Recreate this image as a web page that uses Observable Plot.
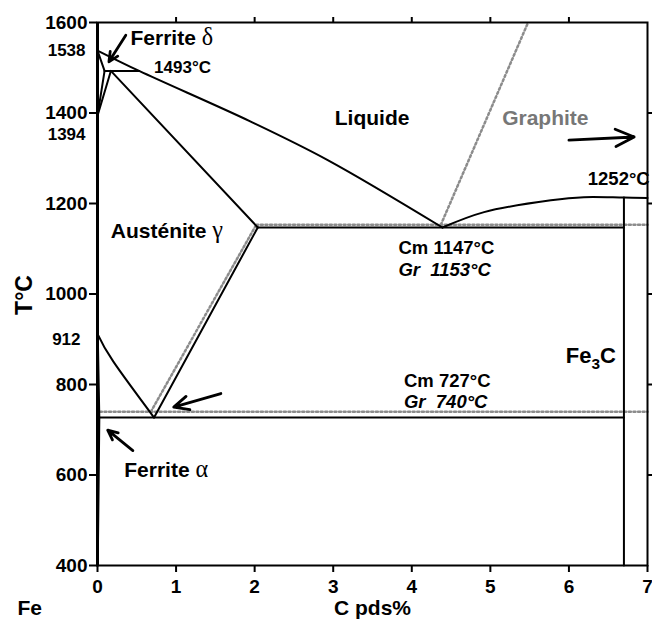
<!DOCTYPE html>
<html><head><meta charset="utf-8">
<script src="https://cdn.jsdelivr.net/npm/d3@7"></script>
<script src="https://cdn.jsdelivr.net/npm/@observablehq/plot@0.6"></script>
<style>
html,body{margin:0;padding:0;background:#fff;}
</style></head><body><div id="chart"></div>
<script>
// ---- data (C wt%, T °C) ----
const yTicks = [400, 600, 800, 1000, 1200, 1400, 1600];
const xTicks = [0, 1, 2, 3, 4, 5, 6, 7];
const liquidus = [[0,1538],[0.53,1493],[1.95,1381],[2.93,1296],[4.39,1147]];
const deltaSolidus = [[0,1538],[0.09,1493]];
const deltaGammaA = [[0.09,1493],[0,1394]];
const deltaGammaB = [[0.17,1493],[0,1394]];
const peritectic = [[0.09,1493],[0.53,1493]];
const gammaSolidus = [[0.17,1493],[2.04,1147]];
const eutecticCm = [[2.04,1147],[6.70,1147]];
const cmLiquidus = [[4.39,1147],[4.92,1181],[5.77,1207],[6.19,1214],[6.70,1213],[7,1212]];
const fe3cLine = [[6.70,1213],[6.70,400]];
const a3Line = [[0,912],[0.2,851],[0.72,727]];
const acmLine = [[0.72,727],[2.04,1147]];
const eutectoidCm = [[0,727],[6.70,727]];
const alphaSolvus = [[0,912],[0.02,727],[0,400]];
// graphite (stable) system, dotted
const grLiquidus = [[4.37,1153],[5.48,1600]];
const eutecticGr = [[2.02,1153],[7,1153]];
const acmGr = [[0.68,740],[2.02,1153]];
const eutectoidGr = [[0.03,740],[7,740]];
// arrows
const arrowsData = [
  {x1:0.36, y1:1572, x2:0.145, y2:1513},
  {x1:6.0, y1:1340, x2:6.83, y2:1347},
  {x1:1.57, y1:780, x2:0.97, y2:750},
  {x1:0.45, y1:654, x2:0.13, y2:699}
];
// labels
const regionLabels = [
  {text:"Ferrite δ", x:0.42, y:1566},
  {text:"Liquide", x:3.02, y:1389},
  {text:"Austénite γ", x:0.17, y:1138},
  {text:"Ferrite α", x:0.34, y:610}
];
const fe3cLabel = [{text:"Fe3C", x:5.96, y:862}];
const graphiteLabel = [{text:"Graphite", x:5.15, y:1389}];
const tempLabels = [
  {text:"Cm 1147°C", x:3.83, y:1101},
  {text:"Cm 727°C", x:3.90, y:808},
  {text:"1252°C", x:6.24, y:1255}
];
const grLabels = [
  {text:"Gr\u00a0\u00a01153°C", x:3.83, y:1053},
  {text:"Gr\u00a0\u00a0740°C", x:3.90, y:761}
];
const peritecticLabel = [{text:"1493°C", x:0.72, y:1501}];

const FONT = "Liberation Sans, Arial, Helvetica, sans-serif";
const solid = (d) => Plot.line(d, {x: p => p[0], y: p => p[1], stroke: "#000", strokeWidth: 2});
const dotted = (d) => Plot.line(d, {x: p => p[0], y: p => p[1], stroke: "#8c8c8c", strokeWidth: 2.5, strokeDasharray: "2,2.6"});

const chart = Plot.plot({
  width: 652, height: 621,
  marginLeft: 97, marginRight: 5, marginTop: 22, marginBottom: 56,
  style: {fontFamily: FONT, background: "#fff", color: "#000", overflow: "visible"},
  x: {domain: [0, 7]},
  y: {domain: [400, 1600]},
  marks: [
    dotted(grLiquidus), dotted(eutecticGr), dotted(acmGr), dotted(eutectoidGr),
    solid(deltaSolidus), solid(deltaGammaA), solid(deltaGammaB), solid(peritectic),
    solid(gammaSolidus), solid(eutecticCm), solid(fe3cLine), solid(acmLine), solid(eutectoidCm),
    Plot.line(liquidus, {x: p => p[0], y: p => p[1], stroke: "#000", strokeWidth: 2, curve: "catmull-rom"}),
    Plot.line(cmLiquidus, {x: p => p[0], y: p => p[1], stroke: "#000", strokeWidth: 2, curve: "catmull-rom"}),
    Plot.line(a3Line, {x: p => p[0], y: p => p[1], stroke: "#000", strokeWidth: 2, curve: "natural"}),
    Plot.line(alphaSolvus, {x: p => p[0], y: p => p[1], stroke: "#000", strokeWidth: 2.5}),
    Plot.frame({stroke: "#000", strokeWidth: 2}),
    Plot.ruleX([0], {stroke: "#000", strokeWidth: 3}),
    Plot.axisY(yTicks, {anchor: "left", tickSize: 8, tickPadding: 2, fontSize: 19, fontWeight: "bold", label: null, strokeWidth: 2, tickFormat: d => String(d)}),
    Plot.axisY(yTicks.slice(1, -1), {anchor: "right", tickSize: 6, tickFormat: () => "", label: null, strokeWidth: 2}),
    Plot.axisX(xTicks, {anchor: "bottom", tickSize: 7, tickPadding: 7, fontSize: 19, fontWeight: "bold", label: null, strokeWidth: 2, tickFormat: d => String(d)}),
    Plot.axisX(xTicks.slice(1, -1), {anchor: "top", tickSize: 6, tickFormat: () => "", label: null, strokeWidth: 2}),
    Plot.text([1538], {x: 0, y: d => d, text: d => String(d), dx: -12, textAnchor: "end", fontSize: 17, fontWeight: "bold"}),
    Plot.text([1394], {x: 0, y: d => d, text: d => String(d), dx: -12, dy: 19, textAnchor: "end", fontSize: 17, fontWeight: "bold"}),
    Plot.text([912], {x: 0, y: d => d, text: d => String(d), dx: -17, dy: 6, textAnchor: "end", fontSize: 17, fontWeight: "bold"}),
    Plot.arrow(arrowsData, {x1: "x1", y1: "y1", x2: "x2", y2: "y2", stroke: "#000", strokeWidth: 2.8, headLength: 11, headAngle: 50}),
    Plot.text(regionLabels, {x: "x", y: "y", text: "text", textAnchor: "start", fontSize: 21, fontWeight: "bold", fill: "#000"}),
    Plot.text(fe3cLabel, {x: "x", y: "y", text: "text", textAnchor: "start", fontSize: 22, fontWeight: "bold", fill: "#000"}),
    Plot.text(graphiteLabel, {x: "x", y: "y", text: "text", textAnchor: "start", fontSize: 21, fontWeight: "bold", fill: "#777"}),
    Plot.text(tempLabels, {x: "x", y: "y", text: "text", textAnchor: "start", fontSize: 18.5, fontWeight: "bold", fill: "#000"}),
    Plot.text(grLabels, {x: "x", y: "y", text: "text", textAnchor: "start", fontSize: 18.5, fontWeight: "bold", fontStyle: "italic", fill: "#000"}),
    Plot.text(peritecticLabel, {x: "x", y: "y", text: "text", textAnchor: "start", fontSize: 17, fontWeight: "bold", fill: "#000"}),
    Plot.text(["T°C"], {frameAnchor: "left", dx: -73, dy: 1, rotate: -90, textAnchor: "middle", fontSize: 23, fontWeight: "bold"}),
    Plot.text(["C pds%"], {frameAnchor: "bottom", dy: 49, textAnchor: "middle", fontSize: 21, fontWeight: "bold"}),
    Plot.text(["Fe"], {frameAnchor: "bottom-left", dx: -80, dy: 49, textAnchor: "start", fontSize: 21, fontWeight: "bold"})
  ]
});
document.getElementById("chart").appendChild(chart);

// Greek letters in a light serif face, subscript in Fe3C
d3.select(chart).selectAll("text").each(function() {
  const t = this.textContent;
  const m = t.match(/^(.*) ([δαγ])$/);
  if (m && this.children.length === 0) {
    const sel = d3.select(this);
    sel.text(null);
    sel.append("tspan").text(m[1] + "\u00a0");
    sel.append("tspan").attr("font-family", "Liberation Serif, Times New Roman, serif")
      .attr("font-weight", "normal").attr("font-size", "1.15em").text(m[2]);
  } else if (t === "Fe3C" && this.children.length === 0) {
    const sel = d3.select(this);
    sel.text(null);
    sel.append("tspan").text("Fe");
    sel.append("tspan").attr("font-size", "0.7em").attr("dy", "0.35em").text("3");
    sel.append("tspan").attr("dy", "-0.25em").text("C");
  }
});
</script></body></html>
